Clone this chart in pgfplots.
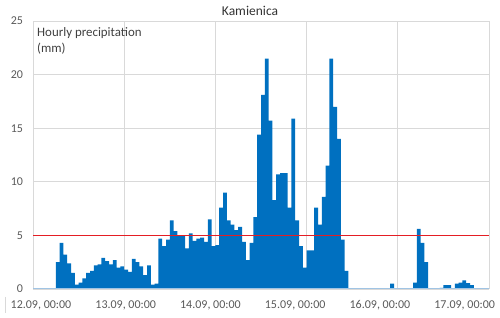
\documentclass[border=0pt]{standalone}
\usepackage{fontspec}
\setmainfont{Carlito}
\usepackage{pgfplots}
\usepackage{pgfplotstable}
\pgfplotsset{compat=1.18}
\definecolor{barblue}{RGB}{0,112,192}
\definecolor{gridgray}{RGB}{217,217,217}
\definecolor{ticktext}{RGB}{89,89,89}
\definecolor{titletext}{RGB}{51,51,51}
\definecolor{labeltext}{RGB}{64,64,64}
\definecolor{limitred}{RGB}{228,30,36}
\definecolor{baseblue}{RGB}{160,196,228}
\pgfplotstableread{
h v
0 0
1 0
2 0
3 0
4 0
5 0
6 2.5
7 4.3
8 3.2
9 2.4
10 1.5
11 0.4
12 0.6
13 1.0
14 1.5
15 1.7
16 2.2
17 2.3
18 2.9
19 2.6
20 2.3
21 2.7
22 2.0
23 2.1
24 1.8
25 1.6
26 2.8
27 2.5
28 2.1
29 1.3
30 2.2
31 0.4
32 0.5
33 4.7
34 4.0
35 4.6
36 6.4
37 5.4
38 5.0
39 5.0
40 3.8
41 5.2
42 4.5
43 4.7
44 4.8
45 4.4
46 6.5
47 4.0
48 4.1
49 7.6
50 9.0
51 6.4
52 6.0
53 5.5
54 5.8
55 4.4
56 2.7
57 4.3
58 6.7
59 14.4
60 18.1
61 21.5
62 15.7
63 8.3
64 10.7
65 10.8
66 10.8
67 7.6
68 15.9
69 6.4
70 4.0
71 2.0
72 3.6
73 3.6
74 7.6
75 6.0
76 8.6
77 11.5
78 21.5
79 17.0
80 14.0
81 4.6
82 1.7
83 0
84 0
85 0
86 0
87 0
88 0
89 0
90 0
91 0
92 0
93 0
94 0.5
95 0
96 0
97 0
98 0
99 0
100 0.6
101 5.6
102 4.3
103 2.5
104 0
105 0
106 0
107 0.1
108 0.35
109 0.35
110 0
111 0.5
112 0.6
113 0.8
114 0.55
115 0.35
116 0
117 0
118 0
119 0
}\rain
\begin{document}
\begin{tikzpicture}
\path[use as bounding box] (-33pt,-29pt) rectangle (467pt,289pt);
\begin{axis}[
  scale only axis, width=456pt, height=268pt,
  xmin=0, xmax=120, ymin=0, ymax=25,
  clip=false,
  axis line style={draw=none},
  ytick={0,5,...,25},
  ymajorgrids=true,
  grid style={gridgray, line width=0.8pt},
  xtick={2.1,24.4,46.7,69.0,91.3,113.6},
  xticklabels={{12.09, 00:00},{13.09, 00:00},{14.09, 00:00},{15.09, 00:00},{16.09, 00:00},{17.09, 00:00}},
  major tick length=0pt,
  extra x ticks={0,24,48,72,96,120},
  extra x tick labels={},
  extra x tick style={grid=major},
  tick label style={font=\fontsize{12}{14}\selectfont, text=ticktext},
  /pgf/number format/assume math mode=true,
  yticklabel style={xshift=-6.5pt},
  xticklabel style={yshift=-8.2pt},
]
\addplot[ybar, bar width=1, fill=barblue, draw=none] table[x expr=\thisrow{h}+0.5, y=v]{\rain};
\addplot[baseblue, line width=1pt] coordinates {(0,0) (120,0)};
\addplot[limitred, line width=1pt] coordinates {(0,5) (120,5)};
\node[anchor=base, font=\fontsize{13.5}{15}\selectfont, text=titletext] at ([yshift=5.7pt]rel axis cs:0.4759,1) {Kamienica};
\node[anchor=north west, inner sep=0pt, align=left, font=\fontsize{12.9}{16.3}\selectfont, text=labeltext] at ([xshift=4pt,yshift=-6pt]rel axis cs:0,1) {Hourly precipitation\\(mm)};
\end{axis}
\draw[gridgray, line width=0.8pt] (-28pt,-8pt) -- (-28pt,-24pt);
\end{tikzpicture}
\end{document}
